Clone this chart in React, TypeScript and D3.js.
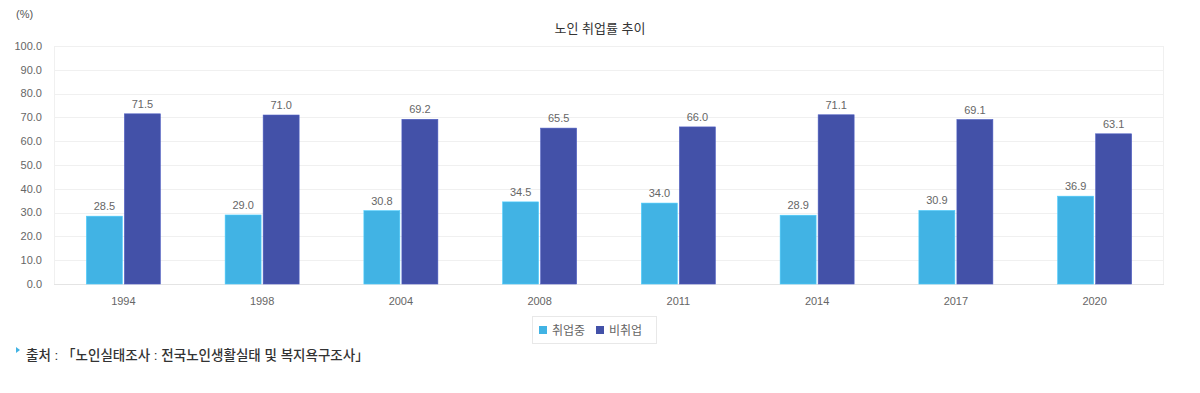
import React, { useEffect, useRef } from 'react';
import * as d3 from 'd3';

const years = ['1994', '1998', '2004', '2008', '2011', '2014', '2017', '2020'];
const employed = [28.5, 29.0, 30.8, 34.5, 34.0, 28.9, 30.9, 36.9];
const notEmployed = [71.5, 71.0, 69.2, 65.5, 66.0, 71.1, 69.1, 63.1];
const seriesNames = ['취업중', '비취업'];
const yTicks = [0, 10, 20, 30, 40, 50, 60, 70, 80, 90, 100];

const colors = ['#41b3e4', '#4351a8'];
const font = '"Liberation Sans", "Noto Sans CJK KR", sans-serif';

const App = () => {
  const svgRef = useRef<SVGSVGElement>(null);

  useEffect(() => {
    const svg = d3.select(svgRef.current);
    svg.selectAll('*').remove();

    const W = 1200, H = 393;
    const margin = { top: 46, left: 54, right: 36, bottom: 109 };
    const gw = W - margin.left - margin.right;
    const gh = H - margin.top - margin.bottom;

    const g = svg.append('g').attr('transform', `translate(${margin.left},${margin.top})`);

    const x = d3.scaleBand().domain(years).range([0, gw]).paddingInner(0).paddingOuter(0);
    const y = d3.scaleLinear().domain([0, 100]).range([gh, 0]);
    const half = x.bandwidth() / 2;
    // two bars side by side in the middle of each year's band
    const inner = d3.scaleBand().domain(seriesNames).range([half - 37, half + 37]).paddingInner(0.054).paddingOuter(0);

    // gridlines
    g.selectAll('line.grid')
      .data(yTicks)
      .enter()
      .append('line')
      .attr('x1', 0)
      .attr('x2', gw)
      .attr('y1', d => Math.round(y(d)) + 0.5)
      .attr('y2', d => Math.round(y(d)) + 0.5)
      .attr('stroke', d => (d === 0 ? '#e4e4e4' : '#f0f0f0'));
    g.append('line').attr('x1', 0.5).attr('x2', 0.5).attr('y1', 0).attr('y2', gh).attr('stroke', '#f0f0f0');
    g.append('line').attr('x1', gw - 0.5).attr('x2', gw - 0.5).attr('y1', 0).attr('y2', gh).attr('stroke', '#f0f0f0');

    // y tick labels
    g.selectAll('text.ytick')
      .data(yTicks)
      .enter()
      .append('text')
      .attr('x', -12)
      .attr('y', d => y(d))
      .attr('dy', '0.35em')
      .attr('text-anchor', 'end')
      .attr('font-size', 11)
      .attr('fill', '#666')
      .attr('font-family', font)
      .text(d => d.toFixed(1));

    // x labels
    g.selectAll('text.xtick')
      .data(years)
      .enter()
      .append('text')
      .attr('x', d => (x(d) as number) + half)
      .attr('y', gh + 21)
      .attr('text-anchor', 'middle')
      .attr('font-size', 11)
      .attr('fill', '#666')
      .attr('font-family', font)
      .text(d => d);

    const series = [employed, notEmployed];
    series.forEach((vals, si) => {
      const name = seriesNames[si];
      g.selectAll(`rect.s${si}`)
        .data(vals)
        .enter()
        .append('rect')
        .attr('x', (d, i) => (x(years[i]) as number) + (inner(name) as number))
        .attr('width', inner.bandwidth())
        .attr('y', d => y(d))
        .attr('height', d => gh - y(d))
        .attr('fill', colors[si])
        .attr('stroke', d3.color(colors[si])!.brighter(0.4).toString())
        .attr('stroke-width', 0.6);

      g.selectAll(`text.v${si}`)
        .data(vals)
        .enter()
        .append('text')
        .attr('x', (d, i) => (x(years[i]) as number) + (inner(name) as number) + inner.bandwidth() / 2)
        .attr('y', d => y(d) - 6)
        .attr('text-anchor', 'middle')
        .attr('font-size', 11)
        .attr('fill', '#666')
        .attr('font-family', font)
        .text(d => d.toFixed(1));
    });

    // title
    svg.append('text')
      .attr('x', 600)
      .attr('y', 33)
      .attr('text-anchor', 'middle')
      .attr('font-size', 13)
      .attr('fill', '#333')
      .attr('font-family', font)
      .text('노인 취업률 추이');

    svg.append('text')
      .attr('x', 16)
      .attr('y', 18)
      .attr('font-size', 11)
      .attr('fill', '#555')
      .attr('font-family', font)
      .text('(%)');

    // legend
    const lg = svg.append('g').attr('transform', 'translate(532,316)');
    lg.append('rect').attr('x', 0.5).attr('y', 0.5).attr('width', 124).attr('height', 27)
      .attr('fill', '#fff').attr('stroke', '#e8e8e8');
    const legendX = [7, 64];
    seriesNames.forEach((n, i) => {
      lg.append('rect').attr('x', legendX[i]).attr('y', 10).attr('width', 8).attr('height', 8).attr('fill', colors[i]);
      lg.append('text').attr('x', legendX[i] + 13).attr('y', 18.5)
        .attr('font-size', 12).attr('fill', '#666').attr('font-family', font).text(n);
    });

    // source note
    svg.append('path').attr('d', 'M16,347 L20,350 L16,353 Z').attr('fill', '#41b3e4');
    svg.append('text')
      .attr('x', 26)
      .attr('y', 360)
      .attr('font-size', 13.5)
      .attr('font-weight', 500)
      .attr('fill', '#333')
      .attr('font-family', font)
      .text('출처 : 「노인실태조사 : 전국노인생활실태 및 복지욕구조사」');
  }, []);

  return (
    <svg
      ref={svgRef}
      width={1200}
      height={393}
      style={{ position: 'absolute', left: 0, top: 0, display: 'block', background: '#fff' }}
    />
  );
};

export default App;
